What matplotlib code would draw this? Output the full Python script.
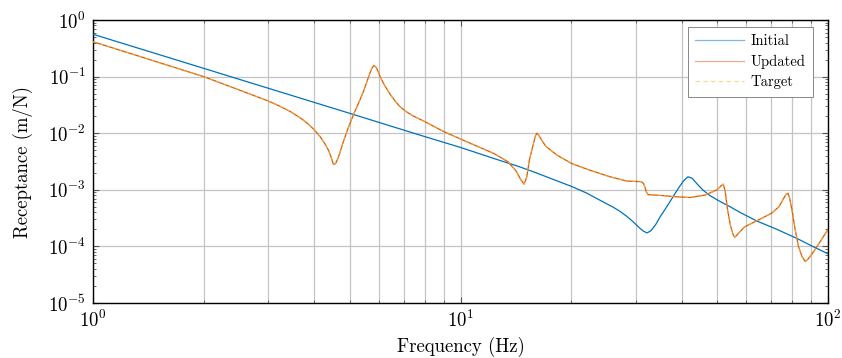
import matplotlib
matplotlib.use("Agg")
import matplotlib.pyplot as plt
from matplotlib.lines import Line2D
from matplotlib.ticker import LogLocator, NullFormatter

plt.rcParams['font.family'] = ['cmr10', 'DejaVu Serif']
plt.rcParams['mathtext.fontset'] = 'cm'
plt.rcParams['axes.formatter.use_mathtext'] = True

# ---- data ----
freq_initial = [1.0, 1.5, 2.0, 3.0, 4.0, 5.0, 6.0, 8.0, 10.0, 12.8, 14.3, 15.8, 18.0, 20.1,
                22.0, 23.9, 26.0, 27.2, 28.3, 29.5, 30.8, 31.5, 32.2, 33.0, 34.0, 34.9,
                36.4, 37.9, 39.3, 40.5, 41.6, 42.7, 43.9, 45.6, 47.7, 50.9, 54.2, 58.0,
                64.1, 72.0, 82.2, 90.0, 100.0]
recep_initial = [0.56, 0.249, 0.14, 0.0622, 0.035, 0.0224, 0.0155, 0.0087, 0.0056, 0.0033,
                 0.00262, 0.00208, 0.0015, 0.00114, 8.8e-4, 6.6e-4, 4.95e-4, 4.14e-4,
                 3.42e-4, 2.72e-4, 2.08e-4, 1.85e-4, 1.73e-4, 1.9e-4, 2.45e-4, 3.3e-4,
                 5.0e-4, 7.6e-4, 1.1e-3, 1.45e-3, 1.7e-3, 1.6e-3, 1.3e-3, 1.0e-3, 7.9e-4,
                 6.2e-4, 5.0e-4, 3.9e-4, 2.8e-4, 2.05e-4, 1.39e-4, 1.03e-4, 7.4e-5]

freq_updated = [1.0, 1.5, 2.0, 2.5, 3.0, 3.2, 3.44, 3.66, 3.83, 4.0, 4.15, 4.27, 4.38, 4.45,
                4.51, 4.57, 4.65, 4.8, 4.95, 5.11, 5.28, 5.44, 5.57, 5.67, 5.75, 5.82, 5.9,
                5.97, 6.04, 6.2, 6.43, 6.65, 6.84, 7.1, 7.4, 8.0, 9.0, 10.0, 11.3, 12.3,
                12.8, 13.5, 14.2, 14.6, 14.9, 15.15, 15.4, 15.8, 16.0, 16.15, 16.4, 16.8,
                17.1, 18.3, 20.1, 22.4, 25.5, 28.3, 30.3, 31.1, 31.5, 31.8, 32.1, 32.4,
                33.5, 35.5, 37.9, 42.1, 46.4, 49.9, 51.2, 51.9, 52.5, 53.3, 54.3, 55.2,
                55.8, 56.6, 59.2, 64.1, 70.2, 73.5, 75.3, 76.8, 77.8, 78.6, 79.8, 81.5,
                83.1, 85.0, 86.7, 88.3, 91.4, 95.5, 100.0]
recep_updated = [0.414, 0.18, 0.1, 0.058, 0.037, 0.0307, 0.0242, 0.0188, 0.015, 0.0115,
                 0.0087, 0.0066, 0.0049, 0.0037, 0.0028, 0.0029, 0.0037, 0.0071, 0.0125,
                 0.021, 0.034, 0.054, 0.083, 0.115, 0.145, 0.157, 0.145, 0.122, 0.1, 0.072,
                 0.049, 0.0365, 0.0295, 0.0243, 0.0205, 0.016, 0.0107, 0.0079, 0.0056, 0.0044,
                 0.0038, 0.0031, 0.0021, 0.0015, 0.00126, 0.0017, 0.0034, 0.0066, 0.0091,
                 0.0100, 0.0088, 0.0068, 0.0058, 0.0041, 0.0029, 0.00224, 0.0017, 0.00143,
                 0.0014, 0.00139, 0.00128, 0.00108, 9.0e-4, 8.2e-4, 8.1e-4, 7.9e-4, 7.6e-4,
                 7.3e-4, 8.1e-4, 1.0e-3, 1.18e-3, 1.26e-3, 9.5e-4, 4.4e-4, 2.3e-4, 1.6e-4,
                 1.45e-4, 1.6e-4, 2.2e-4, 2.85e-4, 3.85e-4, 5.0e-4, 6.6e-4, 8.2e-4, 8.7e-4,
                 7.2e-4, 4.4e-4, 1.9e-4, 1.0e-4, 6.6e-5, 5.4e-5, 6.0e-5, 8.1e-5, 1.25e-4,
                 2.0e-4]

freq_target = freq_updated
recep_target = recep_updated

series_labels = ['Initial', 'Updated', 'Target']
colors = ['#0072BD', '#D95319', '#EDB120']

fig = plt.figure(figsize=(8.42, 3.58), dpi=100)
ax = fig.add_axes([93/842, 1 - 303/358, (828 - 93)/842, (303 - 20)/358])

ax.plot(freq_initial, recep_initial, color=colors[0], lw=0.9, zorder=3)
ax.plot(freq_updated, recep_updated, color=colors[1], lw=0.9, zorder=3)
ax.plot(freq_target, recep_target, color=colors[2], lw=0.7, ls=(0, (4, 3)), zorder=4)

ax.set_xscale('log')
ax.set_yscale('log')
ax.set_xlim(1, 100)
ax.set_ylim(1e-5, 1)

ax.xaxis.set_major_locator(LogLocator(base=10, numticks=10))
ax.xaxis.set_minor_locator(LogLocator(base=10, subs=range(2, 10), numticks=30))
ax.yaxis.set_major_locator(LogLocator(base=10, numticks=10))
ax.yaxis.set_minor_locator(LogLocator(base=10, subs=range(2, 10), numticks=30))
ax.xaxis.set_minor_formatter(NullFormatter())
ax.yaxis.set_minor_formatter(NullFormatter())

ax.grid(True, which='major', axis='both', color='#c4c4c4', lw=0.9, zorder=0)
ax.grid(True, which='minor', axis='x', color='#c4c4c4', lw=0.9, zorder=0)
ax.set_axisbelow(True)

ax.tick_params(which='both', direction='in', top=True, right=True, colors='#555555',
               labelcolor='black', labelsize=13.5)
ax.tick_params(which='major', length=4, width=0.8)
ax.tick_params(which='minor', length=2.5, width=0.6)
ax.tick_params(axis='x', which='major', pad=5)
ax.tick_params(axis='y', which='major', pad=5)
for s in ax.spines.values():
    s.set_linewidth(1.0)
    s.set_color('black')

ax.set_xlabel('Frequency (Hz)', fontsize=13.5, labelpad=4)
ax.set_ylabel('Receptance (m/N)', fontsize=13.5, labelpad=11)

handles = [Line2D([], [], color=colors[0], lw=0.9, alpha=0.5),
           Line2D([], [], color=colors[1], lw=0.9, alpha=0.5),
           Line2D([], [], color=colors[2], lw=0.8, ls=(0, (4, 3)), alpha=0.5)]
leg = ax.legend(handles, series_labels, loc='upper right', fontsize=10.5,
                bbox_to_anchor=((813 - 93) / 735, 1 - 7 / 283), borderaxespad=0,
                handlelength=3.3, handletextpad=0.5, fancybox=False, framealpha=1,
                edgecolor='#888888', labelspacing=0.45, borderpad=0.5)
leg.get_frame().set_linewidth(0.7)

fig.savefig('out.png', dpi=100)
